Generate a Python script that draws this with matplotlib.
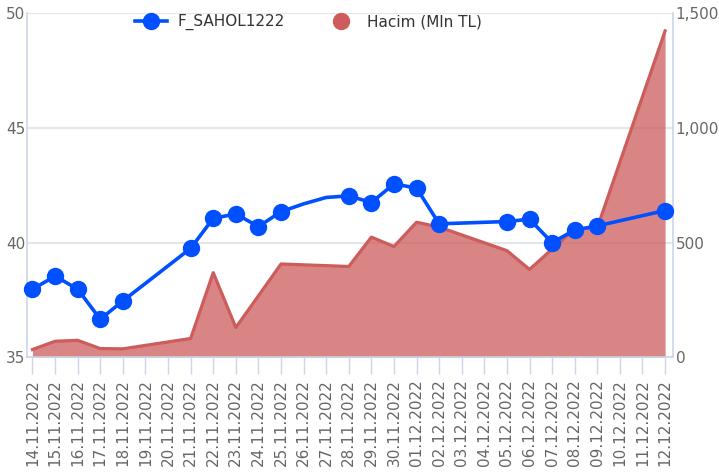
import matplotlib
matplotlib.use("Agg")
import matplotlib.pyplot as plt
from matplotlib.lines import Line2D
from matplotlib.ticker import FuncFormatter, FixedLocator

dates = ["14.11.2022", "15.11.2022", "16.11.2022", "17.11.2022", "18.11.2022",
         "19.11.2022", "20.11.2022", "21.11.2022", "22.11.2022", "23.11.2022",
         "24.11.2022", "25.11.2022", "26.11.2022", "27.11.2022", "28.11.2022",
         "29.11.2022", "30.11.2022", "01.12.2022", "02.12.2022", "03.12.2022",
         "04.12.2022", "05.12.2022", "06.12.2022", "07.12.2022", "08.12.2022",
         "09.12.2022", "10.12.2022", "11.12.2022", "12.12.2022"]

# F_SAHOL1222 price (marked points); None = no trading day
price = [37.97, 38.54, 37.97, 36.66, 37.46, None, None, 39.75, 41.06, 41.25,
         40.70, 41.35, None, None, 42.04, 41.75, 42.56, 42.38, 40.82, None,
         None, 40.92, 41.02, 40.00, 40.55, 40.73, None, None, 41.40]
# unmarked points the price line passes through (curved weekend segment)
price_path_extra = {"26.11.2022": 41.69, "27.11.2022": 41.97}

# Hacim (Mln TL)
volume = [34, 70, 74, 38, 37, None, None, 82, 369, 130,
          268, 407, None, None, 396, 524, 483, 589, 568, None,
          None, 465, 383, 472, 560, 565, None, None, 1423]

blue = "#0050ff"
red = "#cd5c5c"
grid_c = "#e6e6e6"
axis_c = "#ccd6eb"
label_c = "#666666"

fig = plt.figure(figsize=(7.19, 4.72), dpi=100)
ax2 = fig.add_axes([27/719, 1-357.3/472, (673-27)/719, (357.3-13.3)/472])
ax = ax2.twinx()  # placeholder for ordering, will be swapped
ax.remove()
ax = fig.add_axes(ax2.get_position(), sharex=ax2)
ax.set_zorder(ax2.get_zorder() + 1)
ax.patch.set_visible(False)

# volume area on right axis
vx = [i for i, v in enumerate(volume) if v is not None]
vy = [v for v in volume if v is not None]
ax2.fill_between(vx, vy, 0, color=red, alpha=0.75, linewidth=0, zorder=2)
ax2.plot(vx, vy, color=red, lw=2.3, zorder=3, solid_joinstyle="round")
ax2.set_ylim(0, 1500)
ax2.yaxis.tick_right()
ax2.yaxis.set_major_locator(FixedLocator([0, 500, 1000, 1500]))
ax2.yaxis.set_major_formatter(FuncFormatter(lambda v, p: f"{v:,.0f}"))
ax2.tick_params(axis="y", length=0, pad=2, labelsize=11, labelcolor=label_c)
ax2.grid(axis="y", color=grid_c, lw=1.5, zorder=0)
ax2.set_axisbelow(True)
for s in ["top", "left", "bottom"]:
    ax2.spines[s].set_visible(False)
ax2.spines["right"].set_color(axis_c)
ax2.spines["right"].set_linewidth(1.2)
ax2.tick_params(axis="x", bottom=False, labelbottom=False)

# price line on left axis
line_pts = []
for i, d in enumerate(dates):
    if price[i] is not None:
        line_pts.append((i, price[i], True))
    elif d in price_path_extra:
        line_pts.append((i, price_path_extra[d], False))
lx = [p[0] for p in line_pts]
ly = [p[1] for p in line_pts]
marks = [k for k, p in enumerate(line_pts) if p[2]]
ax.plot(lx, ly, color=blue, lw=2.6, marker="o", ms=11.5, markevery=marks,
        zorder=5, solid_joinstyle="round", clip_on=False)
ax.set_ylim(35, 50)
ax.yaxis.set_major_locator(FixedLocator([35, 40, 45, 50]))
ax.tick_params(axis="y", length=0, pad=1, labelsize=11, labelcolor=label_c)
for s in ["top", "right"]:
    ax.spines[s].set_visible(False)
ax.spines["left"].set_color(axis_c)
ax.spines["left"].set_linewidth(1.2)
ax.spines["bottom"].set_color(axis_c)
ax.spines["bottom"].set_linewidth(1.2)

ax.set_xlim(-0.243, 28.35)
ax.set_xticks(range(len(dates)))
ax.set_xticklabels(dates, rotation=90, fontsize=11, color=label_c)
ax.tick_params(axis="x", length=12, width=1, color=axis_c, pad=4)

handles = [Line2D([], [], color=blue, lw=2.6, marker="o", ms=11.5),
           Line2D([], [], color=red, lw=0, marker="o", ms=11.5)]
fig.legend(handles, ["F_SAHOL1222", "Hacim (Mln TL)"], loc="center",
           bbox_to_anchor=(0.429, 0.953), ncol=2, frameon=False, fontsize=11,
           handlelength=2.1, handletextpad=0.7, columnspacing=2.6,
           labelcolor="#333333")

fig.savefig("out.png", dpi=100)
